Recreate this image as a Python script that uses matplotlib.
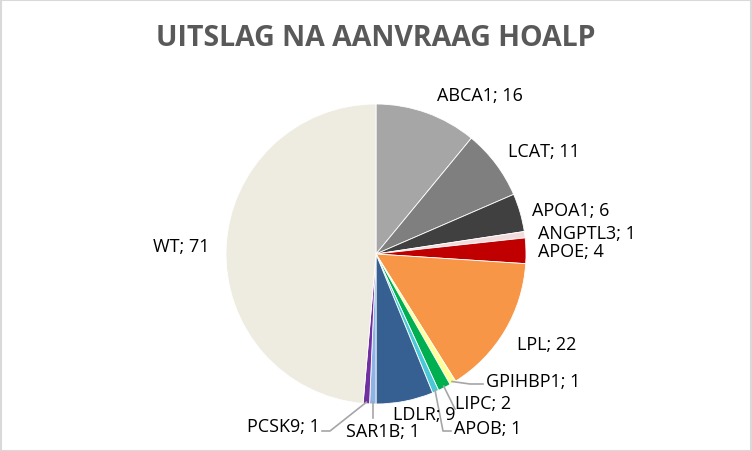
import numpy as np
import matplotlib
matplotlib.use('Agg')
import matplotlib.pyplot as plt
from matplotlib.patches import Rectangle

# data, clockwise from 12 o'clock
genes = ['ABCA1', 'LCAT', 'APOA1', 'ANGPTL3', 'APOE', 'LPL', 'GPIHBP1',
         'LIPC', 'APOB', 'LDLR', 'SAR1B', 'PCSK9', 'WT']
counts = [16, 11, 6, 1, 4, 22, 1, 2, 1, 9, 1, 1, 71]
colors = ['#a6a6a6', '#7f7f7f', '#404040', '#f2dcdb', '#c00000', '#f79646',
          '#ffff99', '#00b050', '#4bc8d8', '#366092', '#8db4e2', '#7030a0',
          '#eeece1']

# label anchor in pixels from top-left, and alignment
label_pos = {
    'ABCA1': (437, 96, 'left'),
    'LCAT': (508, 152, 'left'),
    'APOA1': (532, 211, 'left'),
    'ANGPTL3': (538, 234, 'left'),
    'APOE': (538, 252, 'left'),
    'LPL': (517, 345, 'left'),
    'GPIHBP1': (486, 382, 'left'),
    'LIPC': (455, 404, 'left'),
    'APOB': (454, 429, 'left'),
    'LDLR': (393, 415, 'left'),
    'SAR1B': (346, 432, 'left'),
    'PCSK9': (320, 427, 'right'),
    'WT': (153, 247, 'left'),
}
# leader lines: points after the wedge edge, pixels (None = x of edge)
leaders = {
    'GPIHBP1': [(470, 385), (483, 385)],
    'LIPC': [(455, 410)],
    'APOB': [(443, 432), (451, 432)],
    'SAR1B': [(None, 419)],
    'PCSK9': [(330, 432), (322, 432)],
}

W, H = 752, 452
fig = plt.figure(figsize=(W / 100, H / 100), dpi=100)
fig.patches.append(Rectangle((0.5 / W, 0.5 / H), 1 - 1.5 / W, 1 - 1.5 / H,
                             transform=fig.transFigure, fill=False,
                             edgecolor='#d9d9d9', linewidth=1.5))

cx, cy, r = 376, 255, 150
ax = fig.add_axes([(cx - r) / W, 1 - (cy + r) / H, 2 * r / W, 2 * r / H])
wedges, _ = ax.pie(counts, colors=colors, startangle=90, counterclock=False,
                   radius=1, wedgeprops=dict(edgecolor='white', linewidth=0.6))
ax.set_xlim(-1, 1)
ax.set_ylim(-1, 1)
ax.set_aspect('equal')
ax.axis('off')

fig.text(0.5, 1 - 38 / H, 'UITSLAG NA AANVRAAG HOALP', ha='center',
         va='center', fontsize=20.5, fontweight='bold', color='#595959',
         family='Open Sans')


def to_fig(px, py):
    return px / W, 1 - py / H


inv = fig.transFigure.inverted()
for w, g, n in zip(wedges, genes, counts):
    px, py, ha = label_pos[g]
    fx, fy = to_fig(px, py)
    fig.text(fx, fy, f'{g}; {n}', ha=ha, va='center', fontsize=13,
             color='#000000', family='Open Sans')
    if g in leaders:
        ang = np.deg2rad((w.theta1 + w.theta2) / 2)
        ep = inv.transform(ax.transData.transform((0.99 * np.cos(ang), 0.99 * np.sin(ang))))
        xs, ys = [ep[0]], [ep[1]]
        for lx, ly in leaders[g]:
            qx, qy = to_fig(lx if lx is not None else 0, ly)
            xs.append(ep[0] if lx is None else qx)
            ys.append(qy)
        fig.add_artist(plt.Line2D(xs, ys, transform=fig.transFigure,
                                  color='#a6a6a6', linewidth=1.2))

fig.savefig('out.png', dpi=100)
